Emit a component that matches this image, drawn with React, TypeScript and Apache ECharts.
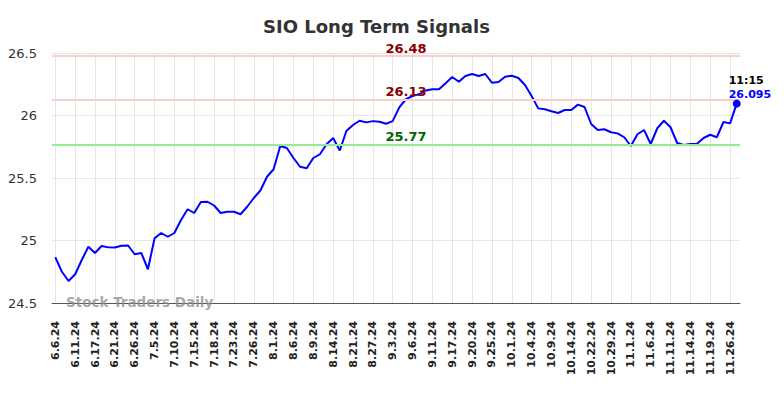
import React, { useEffect, useRef } from "react";
import * as echarts from "echarts";

const dates = [
  "6.6.24", "6.7.24", "6.10.24", "6.11.24", "6.12.24", "6.14.24", "6.17.24", "6.18.24", "6.20.24", "6.21.24",
  "6.24.24", "6.25.24", "6.26.24", "6.28.24", "7.1.24", "7.5.24", "7.8.24", "7.9.24", "7.10.24", "7.11.24",
  "7.12.24", "7.15.24", "7.16.24", "7.17.24", "7.18.24", "7.19.24", "7.22.24", "7.23.24", "7.24.24", "7.25.24",
  "7.26.24", "7.29.24", "7.31.24", "8.1.24", "8.2.24", "8.5.24", "8.6.24", "8.7.24", "8.8.24", "8.9.24",
  "8.12.24", "8.13.24", "8.14.24", "8.16.24", "8.19.24", "8.21.24", "8.22.24", "8.26.24", "8.27.24", "8.28.24",
  "8.30.24", "9.3.24", "9.4.24", "9.5.24", "9.6.24", "9.9.24", "9.10.24", "9.11.24", "9.12.24", "9.16.24",
  "9.17.24", "9.18.24", "9.19.24", "9.20.24", "9.23.24", "9.24.24", "9.25.24", "9.26.24", "9.30.24", "10.1.24",
  "10.2.24", "10.3.24", "10.4.24", "10.7.24", "10.8.24", "10.9.24", "10.10.24", "10.11.24", "10.14.24", "10.16.24",
  "10.21.24", "10.22.24", "10.24.24", "10.28.24", "10.29.24", "10.30.24", "10.31.24", "11.1.24", "11.4.24", "11.5.24",
  "11.6.24", "11.7.24", "11.8.24", "11.11.24", "11.12.24", "11.13.24", "11.14.24", "11.15.24", "11.18.24", "11.19.24",
  "11.20.24", "11.22.24", "11.26.24", "11.27.24",
];

const prices = [
  24.866, 24.75, 24.676, 24.73, 24.844, 24.95, 24.9, 24.956, 24.945, 24.944,
  24.958, 24.96, 24.89, 24.9, 24.77, 25.017, 25.06, 25.03, 25.06, 25.164,
  25.25, 25.22, 25.308, 25.31, 25.28, 25.22, 25.23, 25.23, 25.21, 25.27,
  25.34, 25.4, 25.51, 25.57, 25.756, 25.74, 25.66, 25.59, 25.578, 25.66,
  25.69, 25.77, 25.82, 25.72, 25.876, 25.924, 25.958, 25.945, 25.955, 25.95,
  25.934, 25.955, 26.065, 26.13, 26.156, 26.17, 26.2, 26.21, 26.21, 26.258,
  26.308, 26.27, 26.316, 26.332, 26.316, 26.332, 26.262, 26.268, 26.31, 26.318,
  26.3, 26.244, 26.156, 26.057, 26.05, 26.034, 26.02, 26.044, 26.044, 26.087,
  26.068, 25.932, 25.884, 25.89, 25.866, 25.857, 25.826, 25.756, 25.85, 25.884,
  25.772, 25.898, 25.958, 25.906, 25.78, 25.764, 25.772, 25.774, 25.82, 25.846,
  25.826, 25.948, 25.937, 26.095,
];

const resistanceLevels = [26.48, 26.13];
const supportLevels = [25.77];
const yMin = 24.5;
const yMax = 26.5;
const yStep = 0.5;
const lastTime = "11:15";
const titleText = "SIO Long Term Signals";
const watermark = "Stock Traders Daily";

export default function App() {
  const ref = useRef<HTMLDivElement>(null);

  useEffect(() => {
    if (!ref.current) return;
    const chart = echarts.init(ref.current, null, { renderer: "svg" });
    const font = "DejaVu Sans";
    const lastIdx = prices.length - 1;
    const lvlLabel = (color: string) => ({
      show: true,
      position: "middle",
      distance: 1,
      offset: [10, 0],
      color,
      fontFamily: font,
      fontSize: 13,
      fontWeight: "bold",
    });

    chart.setOption({
      animation: false,
      backgroundColor: "#ffffff",
      title: {
        text: titleText,
        left: 258,
        top: 12,
        textStyle: { fontFamily: font, fontSize: 18, fontWeight: "bold", color: "#333333" },
      },
      grid: { left: 52, right: 44, top: 53, bottom: 95, containLabel: false },
      xAxis: {
        type: "category",
        data: dates,
        boundaryGap: true,
        axisLine: { show: true, lineStyle: { color: "#555555", width: 1 } },
        axisTick: { show: false },
        axisLabel: {
          interval: 2,
          rotate: 90,
          margin: 18,
          fontFamily: font,
          fontSize: 11,
          fontWeight: "bold",
          color: "#222222",
        },
        splitLine: { show: true, interval: 2, alignWithLabel: true, lineStyle: { color: "#e6e6e6", width: 1 } },
      },
      yAxis: {
        type: "value",
        min: yMin,
        max: yMax,
        interval: yStep,
        axisLine: { show: false },
        axisTick: { show: false },
        axisLabel: { margin: 15, fontFamily: font, fontSize: 13, color: "#333333" },
        splitLine: { show: true, lineStyle: { color: "#e6e6e6", width: 1 } },
      },
      series: [
        {
          type: "line",
          data: prices,
          symbol: "none",
          lineStyle: { color: "#0000ff", width: 2 },
          itemStyle: { color: "#0000ff" },
          z: 3,
          markLine: {
            silent: true,
            symbol: ["none", "none"],
            animation: false,
            data: [
              ...resistanceLevels.map((v) => ({
                yAxis: v,
                lineStyle: { color: "#ffcccc", width: 2, type: "solid" },
                label: { ...lvlLabel("#8b0000"), formatter: String(v) },
              })),
              ...supportLevels.map((v) => ({
                yAxis: v,
                lineStyle: { color: "#90ee90", width: 2, type: "solid" },
                label: { ...lvlLabel("#006400"), formatter: String(v) },
              })),
            ],
          },
          markPoint: {
            silent: true,
            animation: false,
            data: [
              {
                coord: [dates[lastIdx], prices[lastIdx]],
                symbol: "circle",
                symbolSize: 8,
                itemStyle: { color: "#0000ff" },
                label: {
                  show: true,
                  position: [-4, -26],
                  align: "left",
                  verticalAlign: "top",
                  formatter: `{t|${lastTime}}\n{v|${prices[lastIdx]}}`,
                  rich: {
                    t: { color: "#000000", fontWeight: "bold", fontSize: 11, fontFamily: font, lineHeight: 14 },
                    v: { color: "#0000ff", fontWeight: "bold", fontSize: 11, fontFamily: font, lineHeight: 14 },
                  },
                },
              },
            ],
          },
        },
      ],
      graphic: [
        {
          type: "text",
          left: 66,
          top: 295,
          z: 10,
          style: {
            text: watermark,
            font: `bold 13.5px "${font}"`,
            fill: "rgba(140,140,140,0.75)",
          },
        },
      ],
    });

    return () => chart.dispose();
  }, []);

  return <div ref={ref} style={{ width: 784, height: 398, position: "absolute", left: 0, top: 0 }} />;
}
